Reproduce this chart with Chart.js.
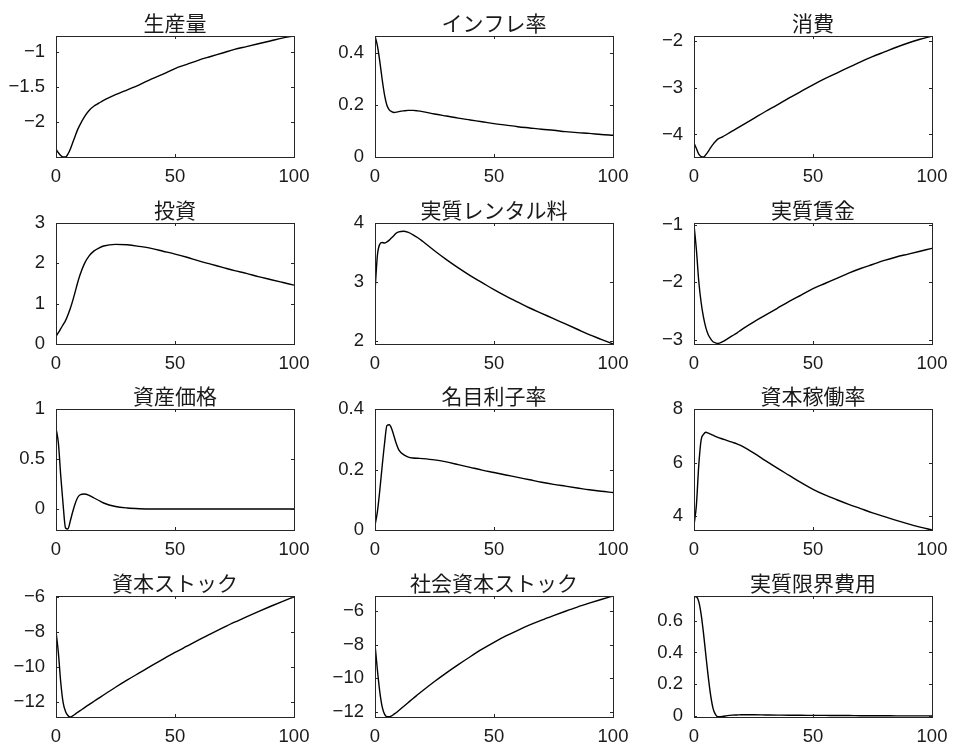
<!DOCTYPE html>
<html>
<head>
<meta charset="utf-8">
<script src="https://cdn.jsdelivr.net/npm/chart.js@4.4.1/dist/chart.umd.min.js"></script>
<style>
  html, body { margin: 0; padding: 0; background: #fff; }
  #wrap { position: relative; width: 954px; height: 751px; overflow: hidden; }
  #wrap canvas { position: absolute; }
</style>
</head>
<body>
<div id="wrap"></div>
<script>
// periods after the shock
var periods = [0,1,2,3,4,5,6,7,8,9,10,12,14,16,18,20,25,30,35,40,45,50,55,60,65,70,75,80,85,90,95,100];

var output        = [-2.38,-2.43,-2.47,-2.49,-2.49,-2.45,-2.38,-2.29,-2.20,-2.11,-2.04,-1.92,-1.83,-1.77,-1.73,-1.69,-1.61,-1.54,-1.47,-1.39,-1.32,-1.24,-1.18,-1.12,-1.07,-1.02,-0.97,-0.93,-0.89,-0.85,-0.81,-0.78];
var inflation     = [0.467,0.43,0.37,0.30,0.24,0.20,0.182,0.175,0.172,0.173,0.175,0.178,0.180,0.180,0.178,0.175,0.166,0.158,0.150,0.143,0.136,0.129,0.123,0.117,0.112,0.107,0.103,0.098,0.094,0.091,0.087,0.084];
var consumption   = [-4.18,-4.30,-4.42,-4.47,-4.48,-4.43,-4.36,-4.28,-4.21,-4.15,-4.10,-4.05,-3.99,-3.93,-3.87,-3.81,-3.66,-3.51,-3.37,-3.22,-3.08,-2.94,-2.81,-2.69,-2.57,-2.45,-2.34,-2.24,-2.14,-2.05,-1.97,-1.90];
var investment    = [0.19,0.28,0.38,0.48,0.58,0.72,0.88,1.07,1.28,1.50,1.70,2.00,2.19,2.31,2.38,2.43,2.47,2.46,2.42,2.37,2.30,2.23,2.15,2.06,1.98,1.90,1.82,1.75,1.67,1.60,1.53,1.46];
var rentalRate    = [2.84,3.45,3.64,3.67,3.66,3.68,3.71,3.75,3.79,3.83,3.85,3.86,3.84,3.80,3.75,3.69,3.53,3.38,3.24,3.11,2.99,2.87,2.76,2.66,2.56,2.47,2.38,2.29,2.20,2.11,2.03,1.95];
var realWage      = [-1.00,-1.43,-1.98,-2.35,-2.61,-2.79,-2.91,-2.98,-3.03,-3.05,-3.06,-3.03,-2.98,-2.93,-2.88,-2.82,-2.69,-2.57,-2.45,-2.33,-2.22,-2.11,-2.02,-1.93,-1.84,-1.76,-1.69,-1.62,-1.56,-1.51,-1.46,-1.41];
var assetPrice    = [0.81,0.66,0.33,0.04,-0.19,-0.20,-0.12,-0.03,0.05,0.11,0.14,0.15,0.135,0.11,0.085,0.06,0.025,0.01,0.003,0,0,0,0,0,0,0,0,0,0,0,0,0];
var nominalRate   = [0.015,0.06,0.13,0.21,0.285,0.345,0.348,0.335,0.31,0.284,0.265,0.249,0.241,0.238,0.237,0.236,0.232,0.225,0.216,0.207,0.198,0.190,0.182,0.174,0.166,0.158,0.151,0.145,0.139,0.133,0.128,0.124];
var utilization   = [3.65,4.4,5.9,6.85,7.05,7.13,7.10,7.06,7.02,6.98,6.94,6.88,6.82,6.76,6.70,6.62,6.36,6.07,5.79,5.52,5.25,5.00,4.79,4.61,4.44,4.28,4.12,3.98,3.84,3.71,3.59,3.48];
var capital       = [-7.95,-9.2,-10.9,-12.05,-12.55,-12.78,-12.87,-12.80,-12.71,-12.61,-12.52,-12.33,-12.15,-11.97,-11.79,-11.61,-11.17,-10.75,-10.35,-9.95,-9.56,-9.18,-8.82,-8.46,-8.12,-7.78,-7.45,-7.14,-6.84,-6.55,-6.27,-6.00];
var publicCapital = [-7.96,-9.5,-10.8,-11.7,-12.15,-12.3,-12.3,-12.25,-12.15,-12.05,-11.93,-11.69,-11.45,-11.21,-10.98,-10.75,-10.20,-9.68,-9.19,-8.72,-8.27,-7.86,-7.48,-7.14,-6.82,-6.53,-6.26,-6.00,-5.75,-5.52,-5.30,-5.09];
var marginalCost  = [0.752,0.75,0.72,0.64,0.52,0.38,0.245,0.13,0.048,0.01,-0.004,-0.002,0.003,0.006,0.007,0.008,0.008,0.007,0.006,0.005,0.005,0.004,0.004,0.003,0.003,0.002,0.002,0.002,0.001,0.001,0.001,0.001];

var titles = ["生産量","インフレ率","消費","投資","実質レンタル料","実質賃金","資産価格","名目利子率","資本稼働率","資本ストック","社会資本ストック","実質限界費用"];
var series = [output, inflation, consumption, investment, rentalRate, realWage, assetPrice, nominalRate, utilization, capital, publicCapital, marginalCost];

var yMin = [-2.49, 0, -4.48, 0, 1.95, -3.07, -0.21, 0, 3.48, -12.87, -12.32, -0.006];
var yMax = [-0.78, 0.467, -1.9, 3, 4, -0.97, 1, 0.4, 8, -5.95, -5.09, 0.755];
var yTicks = [[-2,-1.5,-1],[0,0.2,0.4],[-4,-3,-2],[0,1,2,3],[2,3,4],[-3,-2,-1],[0,0.5,1],[0,0.2,0.4],[4,6,8],[-12,-10,-8,-6],[-12,-10,-8,-6],[0,0.2,0.4,0.6]];
var xTicks = [0, 50, 100];

var textColor = '#1a1a1a';
var tickFont = { family: '"Liberation Sans", "Noto Sans CJK JP", sans-serif', size: 18.5 };

function fmt(v) {
    return String(v).replace('-', '\u2212');
}

// box around the plot area plus small inward tick marks (matlab style)
var framePlugin = {
    id: 'frame',
    afterDatasetsDraw: function(chart) {
        var ctx = chart.ctx, a = chart.chartArea;
        var sx = chart.scales.x, sy = chart.scales.y;
        ctx.save();
        ctx.strokeStyle = '#262626';
        ctx.lineWidth = 1;
        ctx.strokeRect(Math.round(a.left) + 0.5, Math.round(a.top) + 0.5, Math.round(a.right - a.left), Math.round(a.bottom - a.top));
        ctx.beginPath();
        sx.ticks.forEach(function(t) {
            var p = Math.round(sx.getPixelForValue(t.value)) + 0.5;
            ctx.moveTo(p, a.bottom); ctx.lineTo(p, a.bottom - 3);
            ctx.moveTo(p, a.top); ctx.lineTo(p, a.top + 3);
        });
        sy.ticks.forEach(function(t) {
            var p = Math.round(sy.getPixelForValue(t.value)) + 0.5;
            ctx.moveTo(a.left, p); ctx.lineTo(a.left + 3, p);
            ctx.moveTo(a.right, p); ctx.lineTo(a.right - 3, p);
        });
        ctx.stroke();
        ctx.restore();
    }
};

var rowTops = [36, 223, 409, 596];
var wrap = document.getElementById('wrap');

for (var i = 0; i < series.length; i++) {
    var col = i % 3, row = Math.floor(i / 3);
    var cv = document.createElement('canvas');
    cv.width = 319; cv.height = 187;
    cv.style.left = (col * 319) + 'px';
    cv.style.top = (rowTops[row] - 36) + 'px';
    wrap.appendChild(cv);

    var pts = periods.map(function(p, k) { return { x: p, y: this[k] }; }, series[i]);
    var ticksY = yTicks[i];

    new Chart(cv.getContext('2d'), {
        type: 'line',
        data: {
            datasets: [{
                data: pts,
                borderColor: '#000',
                borderWidth: 1.4,
                pointRadius: 0,
                fill: false,
                cubicInterpolationMode: 'monotone'
            }]
        },
        options: {
            responsive: false,
            animation: false,
            devicePixelRatio: 1,
            layout: { padding: { left: 0, right: 25, top: 0, bottom: 0 } },
            plugins: {
                legend: { display: false },
                tooltip: { enabled: false },
                title: {
                    display: true,
                    fullSize: false,
                    text: titles[i],
                    color: textColor,
                    font: { family: '"Noto Sans CJK JP", sans-serif', size: 21, weight: 'normal', lineHeight: 1.2 },
                    padding: { top: 10, bottom: 0.8 }
                }
            },
            scales: {
                x: {
                    type: 'linear',
                    min: 0, max: 100,
                    grid: { display: false, drawTicks: false },
                    border: { display: false },
                    ticks: { color: textColor, font: tickFont, padding: 9, maxRotation: 0, autoSkip: false, callback: fmt },
                    afterBuildTicks: function(s) { s.ticks = xTicks.map(function(v) { return { value: v }; }); },
                    afterFit: function(s) { s.height = 30; }
                },
                y: {
                    min: yMin[i], max: yMax[i],
                    grid: { display: false, drawTicks: false },
                    border: { display: false },
                    ticks: { color: textColor, font: tickFont, padding: 11, autoSkip: false, callback: fmt },
                    afterBuildTicks: (function(tv) {
                        return function(s) { s.ticks = tv.map(function(v) { return { value: v }; }); };
                    })(ticksY),
                    afterFit: function(s) { s.width = 56; }
                }
            }
        },
        plugins: [framePlugin]
    });
}
</script>
</body>
</html>
